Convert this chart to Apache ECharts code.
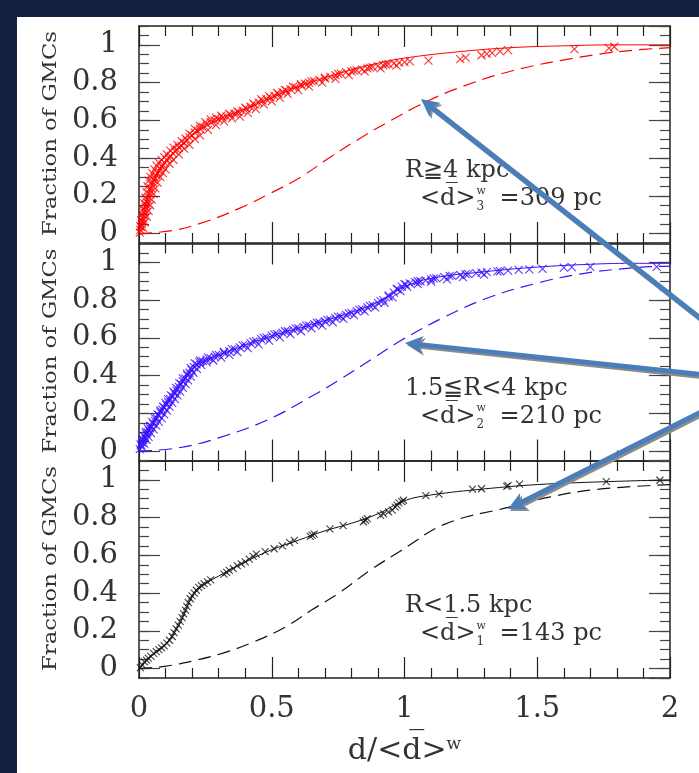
<!DOCTYPE html>
<html>
<head>
<meta charset="utf-8">
<title>Fraction of GMCs</title>
<script src="https://cdn.jsdelivr.net/npm/echarts@6/dist/echarts.min.js"></script>
<style>
  html, body { margin: 0; padding: 0; background: #fff; }
  #chart { width: 699px; height: 773px; }
</style>
</head>
<body>
<div id="chart"></div>
<script>
// tick labels
const xTicks = [0, 0.5, 1, 1.5, 2];
const yTicks = [0, 0.2, 0.4, 0.6, 0.8, 1];

// panel texts (top to bottom)
const panelLabels = ['R\u22674 kpc', '1.5\u2266R<4 kpc', 'R<1.5 kpc'];
const avgSub = ['3', '2', '1'];
const avgValue = ['=309 pc', '=210 pc', '=143 pc'];

// R >= 4 kpc : GMC markers, fitted curve, random-distribution curve
const redPts = [
  [0.003,0.005],[0.005,0.02],[0.008,0.035],[0.01,0.05],[0.012,0.065],[0.015,0.08],[0.018,0.095],[0.02,0.11],
  [0.022,0.125],[0.025,0.14],[0.028,0.15],[0.03,0.165],[0.033,0.18],[0.036,0.195],[0.04,0.21],[0.043,0.225],
  [0.046,0.24],[0.05,0.255],[0.053,0.27],[0.057,0.285],[0.06,0.295],[0.065,0.31],[0.07,0.32],[0.075,0.33],
  [0.08,0.345],[0.085,0.355],[0.09,0.365],[0.097,0.375],[0.105,0.39],[0.112,0.4],[0.12,0.41],[0.128,0.425],
  [0.135,0.435],[0.143,0.445],[0.15,0.455],[0.16,0.465],[0.17,0.48],[0.18,0.495],[0.19,0.51],[0.2,0.52],
  [0.21,0.535],[0.22,0.545],[0.23,0.555],[0.24,0.565],[0.255,0.58],[0.27,0.59],[0.285,0.6],[0.3,0.607],
  [0.315,0.615],[0.33,0.62],[0.345,0.628],[0.36,0.635],[0.375,0.643],[0.39,0.652],[0.405,0.662],[0.42,0.672],
  [0.435,0.683],[0.45,0.695],[0.465,0.705],[0.48,0.713],[0.495,0.72],[0.51,0.73],[0.525,0.74],[0.54,0.75],
  [0.555,0.758],[0.57,0.765],[0.59,0.776],[0.61,0.786],[0.625,0.795],[0.64,0.8],[0.66,0.808],[0.68,0.815],
  [0.7,0.823],[0.72,0.83],[0.74,0.84],[0.76,0.848],[0.78,0.855],[0.8,0.86],[0.82,0.865],[0.84,0.87],
  [0.86,0.876],[0.88,0.882],[0.9,0.887],[0.92,0.893],[0.94,0.898],[0.96,0.902],[0.98,0.906],[1.0,0.909],
  [1.02,0.912],[1.09,0.916],[1.21,0.925],[1.23,0.932],[1.29,0.945],[1.31,0.952],[1.33,0.958],[1.36,0.965],
  [1.39,0.972],[1.64,0.978],[1.77,0.983],[1.79,0.99],
  [0.005,0.04],[0.008,0.07],[0.012,0.1],[0.015,0.13],[0.02,0.16],[0.024,0.19],[0.028,0.22],[0.032,0.25],
  [0.037,0.28],[0.043,0.3],[0.05,0.32],[0.058,0.34],[0.066,0.36],[0.075,0.375],[0.085,0.39],[0.095,0.405],
  [0.105,0.42],[0.118,0.44],[0.13,0.455],[0.145,0.47],[0.16,0.49],[0.175,0.505],[0.19,0.53],[0.21,0.555],
  [0.23,0.57],[0.25,0.59],[0.27,0.605],[0.29,0.615],[0.31,0.625],[0.34,0.635],[0.37,0.648],[0.4,0.668],
  [0.43,0.69],[0.46,0.712],[0.49,0.728],[0.52,0.745],[0.55,0.762],[0.58,0.778],[0.61,0.792],[0.65,0.806],
  [0.7,0.826],[0.75,0.846],[0.81,0.863],[0.87,0.879],[0.93,0.896],
  [0.015,0.03],[0.022,0.06],[0.03,0.09],[0.036,0.12],[0.042,0.15],[0.048,0.18],[0.055,0.21],[0.062,0.24],
  [0.07,0.27],[0.08,0.3],[0.09,0.32],[0.1,0.34],[0.115,0.37],[0.13,0.39],[0.15,0.42],[0.17,0.45],
  [0.19,0.47],[0.21,0.5],[0.23,0.52],[0.26,0.55],[0.29,0.575],[0.32,0.595],[0.35,0.61],[0.38,0.62],
  [0.41,0.64],[0.44,0.66],[0.47,0.685],[0.5,0.7],[0.53,0.72],[0.56,0.74],[0.6,0.76],[0.64,0.78],
  [0.69,0.8],[0.74,0.82],[0.79,0.84],[0.85,0.86],[0.91,0.875],[0.97,0.89]
];
const redFit = [
  [0,0],[0.02,0.12],[0.05,0.26],[0.1,0.38],[0.15,0.455],[0.2,0.52],[0.3,0.605],[0.4,0.66],[0.5,0.72],
  [0.6,0.78],[0.7,0.825],[0.8,0.868],[0.9,0.903],[1.0,0.93],[1.2,0.963],[1.4,0.985],[1.6,0.995],[1.8,1.0],[2.0,1.0]
];
const redModel = [
  [0,0],[0.13,0.017],[0.255,0.065],[0.38,0.135],[0.49,0.21],[0.61,0.3],[0.72,0.405],[0.85,0.52],
  [0.95,0.6],[1.055,0.68],[1.2,0.77],[1.41,0.864],[1.66,0.935],[1.85,0.97],[2.0,0.985]
];

// 1.5 <= R < 4 kpc
const bluePts = [
  [0.003,0.01],[0.008,0.03],[0.012,0.045],[0.017,0.06],[0.022,0.075],[0.027,0.09],[0.032,0.1],[0.037,0.11],
  [0.042,0.12],[0.047,0.13],[0.053,0.145],[0.06,0.16],[0.067,0.175],[0.074,0.19],[0.081,0.205],[0.088,0.22],
  [0.095,0.232],[0.102,0.245],[0.11,0.26],[0.118,0.275],[0.126,0.29],[0.134,0.305],[0.142,0.32],[0.15,0.34],
  [0.158,0.355],[0.166,0.37],[0.174,0.385],[0.182,0.4],[0.19,0.415],[0.198,0.43],[0.207,0.445],[0.217,0.46],
  [0.228,0.47],[0.24,0.477],[0.255,0.485],[0.27,0.492],[0.285,0.5],[0.3,0.51],[0.32,0.52],[0.34,0.53],
  [0.36,0.54],[0.38,0.55],[0.4,0.56],[0.42,0.572],[0.44,0.583],[0.46,0.593],[0.48,0.603],[0.5,0.612],
  [0.52,0.62],[0.54,0.628],[0.56,0.635],[0.58,0.643],[0.6,0.65],[0.62,0.658],[0.64,0.665],[0.66,0.672],
  [0.68,0.68],[0.7,0.688],[0.72,0.696],[0.74,0.705],[0.76,0.713],[0.78,0.722],[0.8,0.732],[0.82,0.742],
  [0.84,0.752],[0.86,0.762],[0.88,0.772],[0.9,0.785],[0.92,0.8],[0.94,0.818],[0.96,0.84],[0.975,0.858],
  [0.99,0.872],[1.005,0.882],[1.02,0.889],[1.04,0.895],[1.06,0.9],[1.08,0.905],[1.1,0.91],[1.12,0.915],
  [1.15,0.922],[1.18,0.928],[1.21,0.933],[1.24,0.938],[1.27,0.943],[1.31,0.948],[1.35,0.952],[1.39,0.956],
  [1.43,0.96],[1.47,0.963],[1.52,0.966],[1.6,0.972],[1.63,0.975],[1.7,0.976],[1.95,0.976],
  [0.006,0.035],[0.012,0.06],[0.018,0.08],[0.025,0.1],[0.033,0.12],[0.041,0.135],[0.05,0.155],[0.06,0.175],
  [0.07,0.195],[0.08,0.215],[0.09,0.235],[0.1,0.255],[0.11,0.275],[0.12,0.295],[0.13,0.315],[0.14,0.335],
  [0.152,0.36],[0.165,0.385],[0.18,0.41],[0.195,0.44],[0.21,0.465],[0.23,0.48],[0.26,0.495],[0.29,0.51],
  [0.32,0.525],[0.35,0.54],[0.39,0.56],[0.43,0.58],[0.47,0.6],[0.51,0.618],[0.55,0.635],[0.59,0.65],
  [0.63,0.665],[0.67,0.68],[0.71,0.695],[0.75,0.712],[0.79,0.73],[0.83,0.75],[0.87,0.77],[0.91,0.795],
  [0.94,0.825],[0.97,0.86],[1.0,0.885],[1.05,0.9],[1.11,0.915],[1.17,0.928],[1.23,0.938],[1.29,0.946],[1.36,0.953],
  [0.012,0.02],[0.02,0.04],[0.028,0.06],[0.036,0.075],[0.045,0.095],[0.055,0.115],[0.065,0.135],[0.075,0.155],
  [0.085,0.175],[0.095,0.195],[0.105,0.215],[0.115,0.235],[0.125,0.255],[0.135,0.275],[0.145,0.295],[0.155,0.315],
  [0.165,0.335],[0.175,0.355],[0.185,0.375],[0.195,0.395],[0.205,0.415],[0.218,0.435],[0.235,0.455],[0.255,0.47],
  [0.28,0.48],[0.31,0.495],[0.34,0.51],[0.37,0.525],[0.41,0.545],[0.45,0.565],[0.49,0.585],[0.53,0.603],
  [0.57,0.62],[0.61,0.635],[0.65,0.65],[0.69,0.665],[0.73,0.682],[0.77,0.7],[0.81,0.72],[0.85,0.74],
  [0.89,0.762],[0.925,0.785],[0.955,0.815],[0.985,0.848],[1.01,0.87],[1.05,0.885],[1.1,0.898],[1.16,0.91],
  [1.22,0.922],[1.3,0.935]
];
const blueFit = [
  [0,0],[0.05,0.14],[0.1,0.245],[0.15,0.34],[0.2,0.43],[0.25,0.48],[0.35,0.535],[0.5,0.61],[0.65,0.67],
  [0.8,0.735],[0.9,0.79],[1.0,0.87],[1.1,0.915],[1.3,0.95],[1.5,0.975],[1.7,0.99],[1.85,0.995],[2.0,0.995]
];
const blueModel = [
  [0,0],[0.148,0.017],[0.3,0.07],[0.484,0.165],[0.65,0.29],[0.753,0.376],[0.88,0.49],[0.988,0.587],
  [1.15,0.71],[1.32,0.815],[1.5,0.89],[1.66,0.938],[1.85,0.97],[2.0,0.98]
];

// R < 1.5 kpc
const blackPts = [
  [0.005,0.005],[0.012,0.02],[0.02,0.035],[0.028,0.045],[0.035,0.055],[0.045,0.065],[0.055,0.08],[0.065,0.09],
  [0.075,0.1],[0.085,0.11],[0.095,0.12],[0.105,0.135],[0.115,0.15],[0.125,0.17],[0.132,0.19],[0.14,0.21],
  [0.148,0.23],[0.155,0.25],[0.162,0.27],[0.168,0.29],[0.175,0.31],[0.18,0.33],[0.186,0.35],[0.193,0.37],
  [0.2,0.385],[0.208,0.4],[0.216,0.415],[0.225,0.43],[0.235,0.44],[0.245,0.45],[0.258,0.46],[0.27,0.47],
  [0.32,0.5],[0.33,0.51],[0.34,0.52],[0.355,0.53],[0.37,0.545],[0.385,0.555],[0.4,0.565],[0.415,0.58],
  [0.43,0.595],[0.442,0.607],[0.475,0.62],[0.509,0.635],[0.54,0.65],[0.568,0.668],[0.585,0.679],[0.645,0.7],
  [0.652,0.707],[0.66,0.712],[0.719,0.74],[0.769,0.758],[0.845,0.778],[0.853,0.786],[0.86,0.795],[0.91,0.812],
  [0.921,0.82],[0.94,0.83],[0.954,0.84],[0.965,0.855],[0.972,0.866],[0.979,0.878],[0.99,0.885],[0.996,0.892],
  [1.08,0.916],[1.13,0.925],[1.256,0.951],[1.29,0.953],[1.385,0.965],[1.39,0.97],[1.433,0.977],[1.76,0.991],[1.962,0.998]
];
const blackFit = [
  [0,0],[0.05,0.07],[0.1,0.13],[0.15,0.23],[0.2,0.38],[0.25,0.45],[0.3,0.49],[0.4,0.565],[0.5,0.63],
  [0.6,0.68],[0.7,0.73],[0.8,0.77],[0.9,0.82],[1.0,0.89],[1.1,0.92],[1.3,0.952],[1.5,0.975],[1.75,0.99],[2.0,1.0]
];
const blackModel = [
  [0,0],[0.098,0.012],[0.2,0.04],[0.316,0.082],[0.43,0.14],[0.551,0.22],[0.65,0.31],[0.753,0.4],
  [0.87,0.52],[0.988,0.626],[1.155,0.767],[1.39,0.854],[1.55,0.91],[1.727,0.95],[2.0,0.975]
];

// blue call-out arrows (pixel positions, tail -> tip)
const arrowTails = [[705, 322], [705, 375], [705, 410]];
const arrowTips = [[421, 99], [405, 343], [508, 509]];

const panelPts = [redPts, bluePts, blackPts];
const panelFit = [redFit, blueFit, blackFit];
const panelModel = [redModel, blueModel, blackModel];
const panelColor = ['#ff0000', '#3b0cff', '#111111'];

const gridTop = [26, 243.5, 461];
const gridH = 217;
const serif = 'DejaVu Serif';
const textColor = '#333';
const crossSymbol = 'path://M0 0L10 10M10 0L0 10';

const chart = echarts.init(document.getElementById('chart'));

function xAxisCfg(g, pos, labels) {
  return {
    gridIndex: g, type: 'value', position: pos, min: xTicks[0], max: xTicks[xTicks.length - 1], interval: 0.5,
    axisLine: { show: true, onZero: false, lineStyle: { color: '#222', width: 1.5 } },
    axisTick: { show: true, inside: true, length: 21, lineStyle: { color: '#222', width: 1.2 } },
    minorTick: { show: true, splitNumber: 5, length: 10, lineStyle: { color: '#222', width: 1.2 } },
    splitLine: { show: false },
    axisLabel: labels ? { show: true, margin: 17, fontFamily: serif, fontSize: 29, color: textColor } : { show: false },
    name: labels ? '{a|d/<d\u0305>}{b|w}' : '',
    nameLocation: 'middle', nameGap: 58,
    nameTextStyle: {
      rich: {
        a: { fontFamily: serif, fontSize: 30, color: textColor },
        b: { fontFamily: serif, fontSize: 17, color: textColor, verticalAlign: 'top' }
      }
    }
  };
}

// major y ticks: nice interval 0.2 inside the fixed -0.05..1.1 range; edge labels hidden
function yMajor(g, pos, labels) {
  return {
    gridIndex: g, type: 'value', position: pos, min: -0.05, max: 1.1, splitNumber: yTicks.length,
    axisLine: { show: true, onZero: false, lineStyle: { color: '#222', width: 1.5 } },
    axisTick: { show: true, inside: true, length: 21, lineStyle: { color: '#444', width: 1.2 } },
    splitLine: { show: false },
    axisLabel: labels ? {
      show: true, showMinLabel: false, showMaxLabel: false, margin: 21,
      fontFamily: serif, fontSize: 29, color: textColor
    } : { show: false }
  };
}

function yMinor(g, pos) {
  return {
    gridIndex: g, type: 'value', position: pos, min: -0.05, max: 1.1, interval: 0.05,
    axisLine: { show: false, onZero: false },
    axisTick: { show: true, inside: true, length: 10, lineStyle: { color: '#444', width: 1.2 } },
    splitLine: { show: false },
    axisLabel: { show: false }
  };
}

const grids = [], xAxes = [], yAxes = [], series = [];
for (let g = 0; g < 3; g++) {
  grids.push({ left: 139, width: 531, top: gridTop[g], height: gridH });
  const xi = xAxes.length;
  xAxes.push(xAxisCfg(g, 'bottom', g === 2));
  xAxes.push(xAxisCfg(g, 'top', false));
  const yi = yAxes.length;
  yAxes.push(yMajor(g, 'left', true));
  yAxes.push(yMajor(g, 'right', false));
  yAxes.push(yMinor(g, 'left'));
  yAxes.push(yMinor(g, 'right'));

  series.push({
    type: 'line', xAxisIndex: xi, yAxisIndex: yi, data: panelModel[g],
    showSymbol: false, smooth: 0.4,
    lineStyle: { color: panelColor[g], width: 1.2, type: [13, 7] }
  });
  series.push({
    type: 'line', xAxisIndex: xi, yAxisIndex: yi, data: panelFit[g],
    showSymbol: false, smooth: 0.4,
    lineStyle: { color: panelColor[g], width: 1 }
  });
  series.push({
    type: 'scatter', xAxisIndex: xi, yAxisIndex: yi, data: panelPts[g],
    symbol: crossSymbol, symbolSize: g === 2 ? 7 : 8,
    itemStyle: { color: 'none', borderColor: panelColor[g], borderWidth: 1.1 }
  });
}

// text helpers
const measureCtx = document.createElement('canvas').getContext('2d');
function textWidth(str, size) {
  measureCtx.font = size + 'px "' + serif + '"';
  return measureCtx.measureText(str).width;
}

const graphics = [];
// dark slide frame
graphics.push({ type: 'rect', z: 200, shape: { x: 0, y: 0, width: 699, height: 17 }, style: { fill: '#13233f' } });
graphics.push({ type: 'rect', z: 200, shape: { x: 0, y: 0, width: 17, height: 773 }, style: { fill: '#13233f' } });

const yName = 'Fraction of GMCs';
const yNameScale = 205 / textWidth(yName, 18);
for (let g = 0; g < 3; g++) {
  const top = gridTop[g];
  graphics.push({
    type: 'text', x: 51, y: top + gridH / 2 - 1, rotation: Math.PI / 2, scaleX: yNameScale,
    style: { text: yName, fontFamily: serif, fontSize: 18, fill: textColor, align: 'center', verticalAlign: 'middle' }
  });
  graphics.push({
    type: 'text', x: 405, y: top + 145,
    style: { text: panelLabels[g], fontFamily: serif, fontSize: 24, fill: textColor, align: 'left', verticalAlign: 'middle' }
  });
  const avg = '<d\u0305>';
  const w1 = textWidth(avg, 24);
  graphics.push({
    type: 'text', x: 420, y: top + 173,
    style: { text: avg, fontFamily: serif, fontSize: 24, fill: textColor, align: 'left', verticalAlign: 'middle' }
  });
  graphics.push({
    type: 'text', x: 421 + w1, y: top + 165,
    style: { text: 'w', fontFamily: serif, fontSize: 11, fill: textColor, align: 'left', verticalAlign: 'middle' }
  });
  graphics.push({
    type: 'text', x: 421 + w1, y: top + 181,
    style: { text: avgSub[g], fontFamily: serif, fontSize: 12, fill: textColor, align: 'left', verticalAlign: 'middle' }
  });
  graphics.push({
    type: 'text', x: 420 + w1 + 24, y: top + 173,
    style: { text: avgValue[g], fontFamily: serif, fontSize: 24, fill: textColor, align: 'left', verticalAlign: 'middle' }
  });
}

// arrows: gray copy offset underneath as the drop shadow
const arrowColor = '#4a7ebb';
function arrowParts(tail, tip, dx0, dy0, color, z) {
  const dx = tip[0] - tail[0], dy = tip[1] - tail[1];
  const len = Math.hypot(dx, dy);
  const ux = dx / len, uy = dy / len, nx = -uy, ny = ux;
  const L = 18, W = 9;
  const tx = tip[0] + dx0, ty = tip[1] + dy0;
  const bx = tx - L * ux, by = ty - L * uy;
  const mx = tx - (L - 5) * ux, my = ty - (L - 5) * uy;
  return [
    { type: 'line', z: z, shape: { x1: tail[0] + dx0, y1: tail[1] + dy0, x2: mx, y2: my },
      style: { stroke: color, lineWidth: 5 } },
    { type: 'polygon', z: z,
      shape: { points: [[tx, ty], [bx + W * nx, by + W * ny], [mx, my], [bx - W * nx, by - W * ny]] },
      style: { fill: color } }
  ];
}
for (let i = 0; i < arrowTips.length; i++) {
  arrowParts(arrowTails[i], arrowTips[i], 2, 2, '#8c8c8c', 150).forEach(p => graphics.push(p));
  arrowParts(arrowTails[i], arrowTips[i], 0, 0, arrowColor, 151).forEach(p => graphics.push(p));
}

chart.setOption({
  backgroundColor: '#ffffff',
  animation: false,
  grid: grids,
  xAxis: xAxes,
  yAxis: yAxes,
  series: series,
  graphic: graphics
});
</script>
</body>
</html>
